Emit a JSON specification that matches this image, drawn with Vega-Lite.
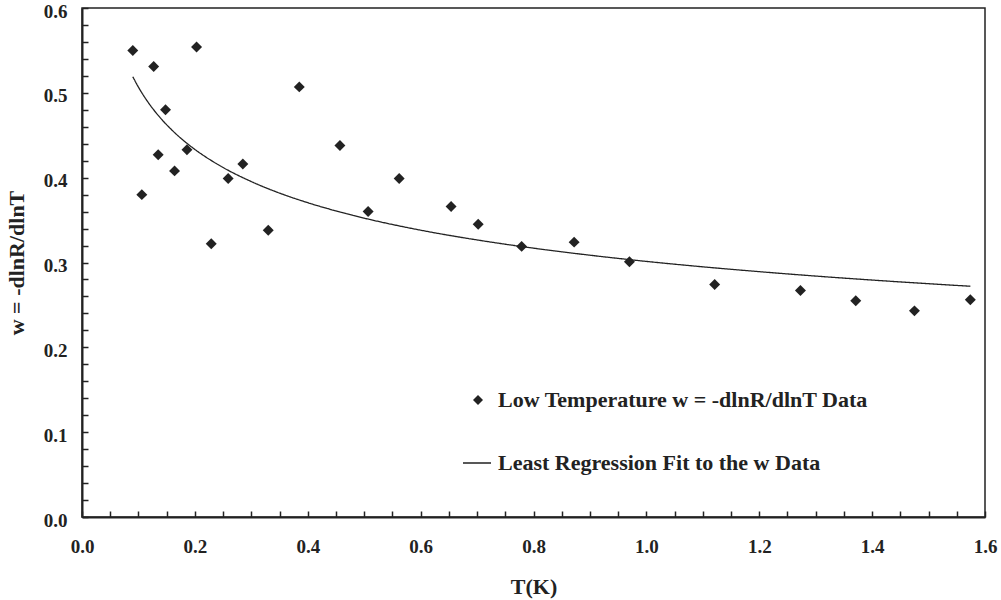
{
  "$schema": "https://vega.github.io/schema/vega-lite/v6.json",
  "width": 903,
  "height": 509,
  "autosize": {"type": "none"},
  "padding": {"left": 82, "top": 8, "right": 16, "bottom": 83},
  "background": "white",
  "config": {
    "view": {"stroke": "#222", "strokeWidth": 1.5},
    "font": "Liberation Serif",
    "axis": {
      "domainColor": "#222", "domainWidth": 2,
      "tickColor": "#222", "tickWidth": 1.5,
      "labelColor": "#222", "titleColor": "#222",
      "labelFont": "Liberation Serif", "labelFontWeight": "bold", "labelFontSize": 19,
      "titleFont": "Liberation Serif", "titleFontWeight": "bold", "titleFontSize": 22,
      "grid": false, "labelOverlap": false, "labelFlush": false
    }
  },
  "datasets": {
    "pts": [
      {"T": 0.090, "w": 0.550, "series": "Low Temperature w = -dlnR/dlnT Data"},
      {"T": 0.106, "w": 0.380, "series": "Low Temperature w = -dlnR/dlnT Data"},
      {"T": 0.127, "w": 0.531, "series": "Low Temperature w = -dlnR/dlnT Data"},
      {"T": 0.135, "w": 0.427, "series": "Low Temperature w = -dlnR/dlnT Data"},
      {"T": 0.148, "w": 0.480, "series": "Low Temperature w = -dlnR/dlnT Data"},
      {"T": 0.164, "w": 0.408, "series": "Low Temperature w = -dlnR/dlnT Data"},
      {"T": 0.186, "w": 0.433, "series": "Low Temperature w = -dlnR/dlnT Data"},
      {"T": 0.203, "w": 0.554, "series": "Low Temperature w = -dlnR/dlnT Data"},
      {"T": 0.229, "w": 0.322, "series": "Low Temperature w = -dlnR/dlnT Data"},
      {"T": 0.259, "w": 0.399, "series": "Low Temperature w = -dlnR/dlnT Data"},
      {"T": 0.285, "w": 0.416, "series": "Low Temperature w = -dlnR/dlnT Data"},
      {"T": 0.330, "w": 0.338, "series": "Low Temperature w = -dlnR/dlnT Data"},
      {"T": 0.385, "w": 0.507, "series": "Low Temperature w = -dlnR/dlnT Data"},
      {"T": 0.457, "w": 0.438, "series": "Low Temperature w = -dlnR/dlnT Data"},
      {"T": 0.507, "w": 0.360, "series": "Low Temperature w = -dlnR/dlnT Data"},
      {"T": 0.562, "w": 0.399, "series": "Low Temperature w = -dlnR/dlnT Data"},
      {"T": 0.654, "w": 0.366, "series": "Low Temperature w = -dlnR/dlnT Data"},
      {"T": 0.702, "w": 0.345, "series": "Low Temperature w = -dlnR/dlnT Data"},
      {"T": 0.779, "w": 0.319, "series": "Low Temperature w = -dlnR/dlnT Data"},
      {"T": 0.872, "w": 0.324, "series": "Low Temperature w = -dlnR/dlnT Data"},
      {"T": 0.970, "w": 0.301, "series": "Low Temperature w = -dlnR/dlnT Data"},
      {"T": 1.121, "w": 0.274, "series": "Low Temperature w = -dlnR/dlnT Data"},
      {"T": 1.273, "w": 0.267, "series": "Low Temperature w = -dlnR/dlnT Data"},
      {"T": 1.371, "w": 0.255, "series": "Low Temperature w = -dlnR/dlnT Data"},
      {"T": 1.475, "w": 0.243, "series": "Low Temperature w = -dlnR/dlnT Data"},
      {"T": 1.574, "w": 0.256, "series": "Low Temperature w = -dlnR/dlnT Data"}
    ],
    "fit": [
      {"T": 0.09, "w": 0.519, "fitname": "Least Regression Fit to the w Data"},
      {"T": 0.10, "w": 0.5067, "fitname": "Least Regression Fit to the w Data"},
      {"T": 0.12, "w": 0.4862, "fitname": "Least Regression Fit to the w Data"},
      {"T": 0.14, "w": 0.4696, "fitname": "Least Regression Fit to the w Data"},
      {"T": 0.16, "w": 0.4557, "fitname": "Least Regression Fit to the w Data"},
      {"T": 0.18, "w": 0.4437, "fitname": "Least Regression Fit to the w Data"},
      {"T": 0.20, "w": 0.4333, "fitname": "Least Regression Fit to the w Data"},
      {"T": 0.25, "w": 0.4120, "fitname": "Least Regression Fit to the w Data"},
      {"T": 0.30, "w": 0.3954, "fitname": "Least Regression Fit to the w Data"},
      {"T": 0.35, "w": 0.3818, "fitname": "Least Regression Fit to the w Data"},
      {"T": 0.40, "w": 0.3705, "fitname": "Least Regression Fit to the w Data"},
      {"T": 0.45, "w": 0.3608, "fitname": "Least Regression Fit to the w Data"},
      {"T": 0.50, "w": 0.3523, "fitname": "Least Regression Fit to the w Data"},
      {"T": 0.60, "w": 0.3381, "fitname": "Least Regression Fit to the w Data"},
      {"T": 0.70, "w": 0.3266, "fitname": "Least Regression Fit to the w Data"},
      {"T": 0.80, "w": 0.3169, "fitname": "Least Regression Fit to the w Data"},
      {"T": 0.90, "w": 0.3086, "fitname": "Least Regression Fit to the w Data"},
      {"T": 1.00, "w": 0.3013, "fitname": "Least Regression Fit to the w Data"},
      {"T": 1.10, "w": 0.2949, "fitname": "Least Regression Fit to the w Data"},
      {"T": 1.20, "w": 0.2892, "fitname": "Least Regression Fit to the w Data"},
      {"T": 1.30, "w": 0.2840, "fitname": "Least Regression Fit to the w Data"},
      {"T": 1.40, "w": 0.2793, "fitname": "Least Regression Fit to the w Data"},
      {"T": 1.50, "w": 0.2750, "fitname": "Least Regression Fit to the w Data"},
      {"T": 1.574, "w": 0.2720, "fitname": "Least Regression Fit to the w Data"}
    ]
  },
  "encoding": {
    "x": {
      "field": "T", "type": "quantitative",
      "scale": {"domain": [0, 1.6], "nice": false, "zero": false},
      "axis": {
        "title": "T(K)",
        "values": [0, 0.05, 0.1, 0.15, 0.2, 0.25, 0.3, 0.35, 0.4, 0.45, 0.5, 0.55, 0.6, 0.65, 0.7, 0.75, 0.8, 0.85, 0.9, 0.95, 1.0, 1.05, 1.1, 1.15, 1.2, 1.25, 1.3, 1.35, 1.4, 1.45, 1.5, 1.55, 1.6],
        "labelExpr": "abs(datum.value*5 - round(datum.value*5)) < 0.001 ? format(datum.value, '.1f') : ''",
        "tickSize": -6,
        "labelPadding": 26,
        "titlePadding": 20
      }
    },
    "y": {
      "field": "w", "type": "quantitative",
      "scale": {"domain": [0, 0.6], "nice": false, "zero": false},
      "axis": {
        "title": "w = -dlnR/dlnT",
        "values": [0, 0.02, 0.04, 0.06, 0.08, 0.1, 0.12, 0.14, 0.16, 0.18, 0.2, 0.22, 0.24, 0.26, 0.28, 0.3, 0.32, 0.34, 0.36, 0.38, 0.4, 0.42, 0.44, 0.46, 0.48, 0.5, 0.52, 0.54, 0.56, 0.58, 0.6],
        "labelExpr": "abs(datum.value*10 - round(datum.value*10)) < 0.001 ? format(datum.value, '.1f') : ''",
        "tickSize": -6,
        "labelPadding": 21,
        "labelOffset": 3,
        "titlePadding": 15
      }
    }
  },
  "layer": [
    {
      "data": {"name": "fit"},
      "mark": {"type": "line", "color": "#222", "strokeWidth": 1.3, "interpolate": "monotone"},
      "encoding": {
        "strokeDash": {
          "field": "fitname", "type": "nominal",
          "scale": {"domain": ["Least Regression Fit to the w Data"], "range": [[1, 0]]},
          "legend": {
            "title": null, "orient": "none", "legendX": 380, "legendY": 440,
            "padding": 0, "symbolType": "stroke", "symbolSize": 784,
            "symbolStrokeWidth": 1.3, "symbolStrokeColor": "#222",
            "labelFont": "Liberation Serif", "labelFontWeight": "bold", "labelFontSize": 22,
            "labelColor": "#222", "labelOffset": 6, "labelLimit": 800
          }
        }
      }
    },
    {
      "data": {"name": "pts"},
      "mark": {"type": "point", "shape": "diamond", "filled": true, "size": 120, "color": "#222", "opacity": 1},
      "encoding": {
        "shape": {
          "field": "series", "type": "nominal",
          "scale": {"domain": ["Low Temperature w = -dlnR/dlnT Data"], "range": ["diamond"]},
          "legend": {
            "title": null, "orient": "none", "legendX": 385, "legendY": 381,
            "padding": 0, "symbolSize": 100,
            "symbolFillColor": "#222", "symbolStrokeColor": "#222", "symbolOpacity": 1,
            "labelFont": "Liberation Serif", "labelFontWeight": "bold", "labelFontSize": 22,
            "labelColor": "#222", "labelOffset": 9, "labelLimit": 800
          }
        }
      }
    }
  ]
}
